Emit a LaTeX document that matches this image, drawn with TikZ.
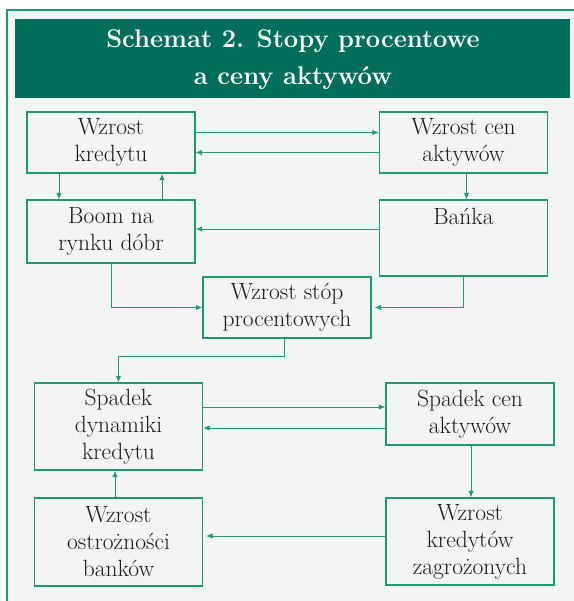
\documentclass[tikz,border=0pt]{standalone}
\usepackage{fontspec}
\usepackage{tikz}
\usetikzlibrary{calc,positioning,arrows.meta}

\definecolor{titlegreen}{HTML}{006E5B}
\definecolor{linegreen}{HTML}{1E9A6B}
\definecolor{panelgray}{HTML}{F3F5F4}
\definecolor{inkgray}{HTML}{1C1A1B}

\tikzset{
	box/.style={draw=linegreen, line width=1.3pt, fill=panelgray, text=inkgray,
		align=center, inner sep=2pt, minimum width=168pt,
		font=\fontsize{23.5}{27}\selectfont},
	link/.style={draw=linegreen, line width=0.9pt, -{Latex[length=6.5pt,width=5.5pt]}},
}

\begin{document}
\begin{tikzpicture}[x=1pt,y=-1pt]
		\useasboundingbox (0,0) rectangle (573,601);
		\fill[panelgray, draw=linegreen, line width=1.3pt] (7,10) rectangle (590,620);
		\fill[titlegreen] (15,19) rectangle (570,98);
		\node(title) at (293,60) [text=white, align=center, font=\bfseries\fontsize{25.5}{37}\selectfont] {Schemat 2. Stopy procentowe\\a ceny aktywów};

		% upper loop
		\node(kredyt) at (111,142.5) [box, minimum height=61pt] {Wzrost\\kredytu};
		\node(cenyw) at (463.5,142.5) [box, minimum height=61pt] {Wzrost cen\\aktywów};
		\node(boom) at (111,231.5) [box, minimum height=63pt] {Boom na\\rynku dóbr};
		\node(banka) at (463.5,238) [box, text height=22pt, text depth=48pt, inner ysep=3pt] {Bańka};
		\node(stopy) at (287,307.5) [box, minimum height=61pt] {Wzrost stóp\\procentowych};

		% lower loop
		\node(dyn) at (118.5,426.5) [box, minimum height=87pt] {Spadek\\dynamiki\\kredytu};
		\node(cenys) at (470,414) [box, minimum height=62pt] {Spadek cen\\aktywów};
		\node(ostr) at (118.5,542) [box, minimum height=88pt] {Wzrost\\ostrożności\\banków};
		\node(zagr) at (470,541.5) [box, minimum height=87pt] {Wzrost\\kredytów\\zagrożonych};

		\path[link]
			([yshift=10pt]kredyt.east) -- ([yshift=10pt]kredyt.east -| cenyw.west);
		\path[link]
			([yshift=-10pt]cenyw.west) -- ([yshift=-10pt]cenyw.west -| kredyt.east);
		\path[link] ([xshift=-52pt]kredyt.south) -- ([xshift=-52pt]kredyt.south |- boom.north);
		\path[link] ([xshift=51pt]boom.north) -- ([xshift=51pt]boom.north |- kredyt.south);
		\path[link] ([xshift=3pt]cenyw.south) -- ([xshift=3pt]cenyw.south |- banka.north);
		\path[link] ([yshift=9pt]banka.west) -- ([yshift=9pt]banka.west -| boom.east);
		\path[link] (boom.south) |- (stopy.west);
		\path[link] (banka.south) |- ([xshift=3pt]stopy.east);
		\path[link] ([xshift=-3pt]stopy.south) -- ++(0,18) -| (dyn.north);

		\path[link] ([yshift=19.5pt]dyn.east) -- ([yshift=19.5pt]dyn.east -| cenys.west);
		\path[link] ([yshift=-14pt]cenys.west) -- ([yshift=-14pt]cenys.west -| dyn.east);
		\path[link] ([xshift=1pt]cenys.south) -- ([xshift=1pt]cenys.south |- zagr.north);
		\path[link] ([yshift=5.5pt]zagr.west) -- ([yshift=5.5pt,xshift=3pt]zagr.west -| ostr.east);
		\path[link] ([xshift=-3.5pt]ostr.north) -- ([xshift=-3.5pt]ostr.north |- dyn.south);
	\end{tikzpicture}
\end{document}
